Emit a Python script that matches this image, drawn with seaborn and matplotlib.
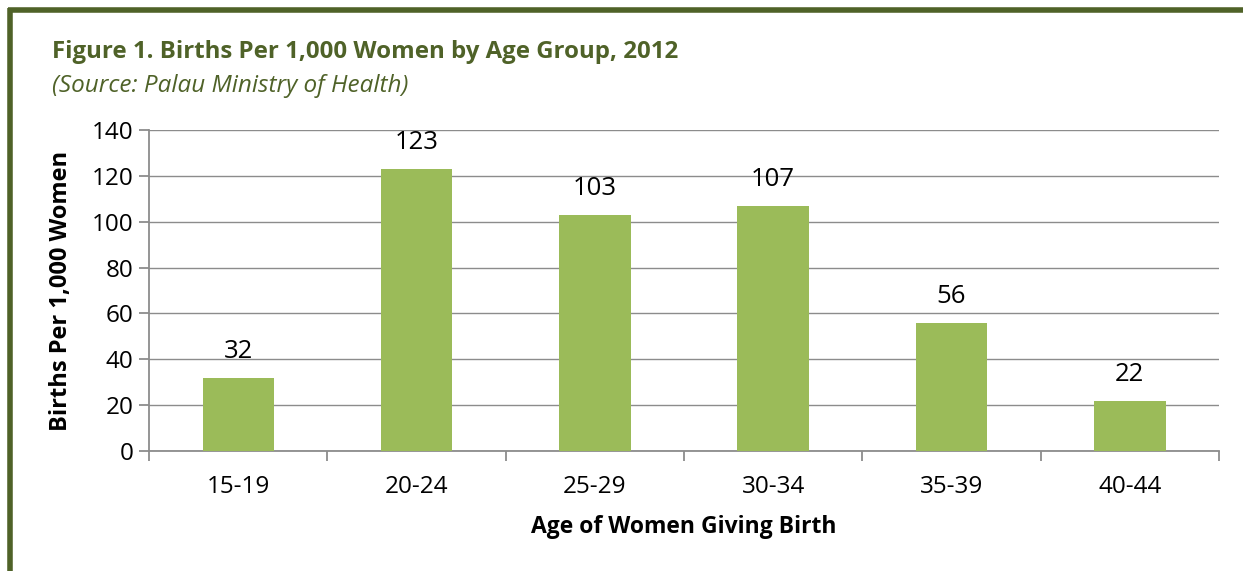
import matplotlib
matplotlib.use("Agg")
import matplotlib.pyplot as plt
import seaborn as sns
import pandas as pd
from matplotlib.lines import Line2D

age_groups = ["15-19", "20-24", "25-29", "30-34", "35-39", "40-44"]
births = [32, 123, 103, 107, 56, 22]
y_ticks = [0, 20, 40, 60, 80, 100, 120, 140]

title = "Figure 1. Births Per 1,000 Women by Age Group, 2012"
subtitle = "(Source: Palau Ministry of Health)"
xlabel = "Age of Women Giving Birth"
ylabel = "Births Per 1,000 Women"

sns.set_style("white")
plt.rcParams['font.family'] = ['Open Sans', 'DejaVu Sans']
plt.rcParams['text.color'] = 'black'
plt.rcParams['axes.labelcolor'] = 'black'
plt.rcParams['xtick.color'] = 'black'
plt.rcParams['ytick.color'] = 'black'

df = pd.DataFrame({"age": age_groups, "births": births})

W, H = 1243, 571
fig = plt.figure(figsize=(W / 100, H / 100), dpi=100)
ax = fig.add_axes([149 / W, 1 - 451 / H, (1219 - 149) / W, (451 - 130) / H])

sns.barplot(data=df, x="age", y="births", color="#9BBB59", width=0.4,
            saturation=1, ax=ax, zorder=3, linewidth=0, edgecolor="none")

ax.set_ylim(0, 140)
ax.set_xlim(-0.5, len(age_groups) - 0.5)
ax.set_yticks(y_ticks)
ax.yaxis.grid(True, color="#8c8c8c", linewidth=1.0, zorder=0)
ax.set_axisbelow(True)

for s in ["top", "right"]:
    ax.spines[s].set_visible(False)
for s in ["left", "bottom"]:
    ax.spines[s].set_color("#8c8c8c")
    ax.spines[s].set_linewidth(1.3)

# ticks at category boundaries on x
ax.set_xticks(range(len(age_groups)))
ax.set_xticklabels(age_groups)
ax.tick_params(axis="x", which="major", length=0, labelsize=17.5, pad=17, labelcolor="black")
ax.set_xticks([i - 0.5 for i in range(len(age_groups) + 1)], minor=True)
ax.tick_params(axis="x", which="minor", length=7, width=1.3, color="#8c8c8c", direction="out")
ax.tick_params(axis="y", length=7, width=1.3, color="#8c8c8c", labelsize=17.5, pad=4,
               direction="out", labelcolor="black")
ax.tick_params(axis="y", which="major", left=True)
ax.tick_params(axis="x", which="minor", bottom=True)

for i, v in enumerate(births):
    ax.text(i, v + 6, str(v), ha="center", va="bottom", fontsize=18.5, color="black")

ax.set_xlabel(xlabel, fontsize=16.5, fontweight="bold", labelpad=12, color="black")
ax.set_ylabel(ylabel, fontsize=17, fontweight="bold", labelpad=14, color="black")

fig.text(52 / W, 1 - 52 / H, title, fontsize=17.3, fontweight="bold",
         color="#4F6228", ha="left", va="center")
fig.text(52 / W, 1 - 86 / H, subtitle, fontsize=17.5, style="italic",
         color="#4F6228", ha="left", va="center")

# frame border
fig.add_artist(Line2D([8 / W, 1.0], [1 - 9.5 / H, 1 - 9.5 / H], color="#4F6228",
                      linewidth=4, solid_capstyle="butt", transform=fig.transFigure))
fig.add_artist(Line2D([10 / W, 10 / W], [0, 1 - 7.5 / H], color="#4F6228",
                      linewidth=4, solid_capstyle="butt", transform=fig.transFigure))

fig.savefig("out.png", dpi=100)
